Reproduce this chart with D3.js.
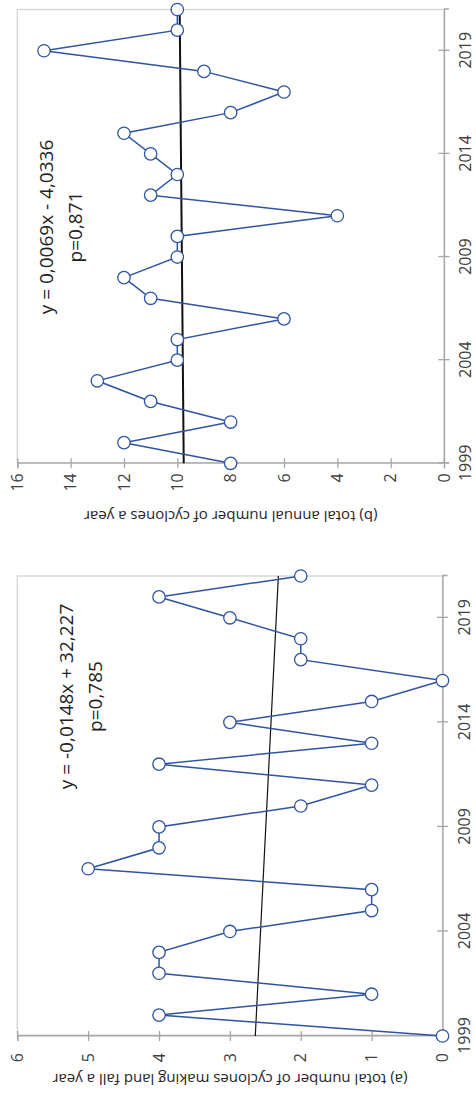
<!DOCTYPE html>
<html>
<head>
<meta charset="utf-8">
<script src="https://cdn.jsdelivr.net/npm/d3@7"></script>
<style>
body { margin: 0; background: #fff; }
text { font-family: "Open Sans", sans-serif; }
</style>
</head>
<body>
<div id="chart"></div>
<script>
// data
const years = [1999, 2000, 2001, 2002, 2003, 2004, 2005, 2006, 2007, 2008, 2009, 2010,
  2011, 2012, 2013, 2014, 2015, 2016, 2017, 2018, 2019, 2020, 2021];
const yearTicks = [1999, 2004, 2009, 2014, 2019];

const landfall = [0, 4, 1, 4, 4, 3, 1, 1, 5, 4, 4, 2, 1, 4, 1, 3, 1, 0, 2, 2, 3, 4, 2];
const totalCyclones = [8, 12, 8, 11, 13, 10, 10, 6, 11, 12, 10, 10, 4, 11, 10, 11, 12, 8, 6, 9, 15, 10, 10];

const trendA = { slope: -0.0148, intercept: 32.227, eq: "y = -0,0148x + 32,227", p: "p=0,785" };
const trendB = { slope: 0.0069, intercept: -4.0336, eq: "y = 0,0069x - 4,0336", p: "p=0,871" };

const valueTicksA = [0, 1, 2, 3, 4, 5, 6];
const valueTicksB = [0, 2, 4, 6, 8, 10, 12, 14, 16];

const titleA = "(a) total number of cyclones making land fall a year";
const titleB = "(b) total annual number of cyclones a year";

// the figure is drawn upright (1095 x 476) and then turned a quarter left
const W = 1095, H = 476;
const blue = "#2f54a2";

const svg = d3.select("#chart").append("svg")
  .attr("width", 476)
  .attr("height", 1095);

const fig = svg.append("g")
  .attr("transform", `translate(0,${W}) rotate(-90)`);

function panel(o) {
  let x = d3.scaleLinear().domain([1999, 2021]).range([o.x0, o.x1]);
  let y = d3.scaleLinear().domain([0, o.vmax]).range([o.y0, o.y1]);

  let g = fig.append("g");

  // light frame
  g.append("rect")
    .attr("x", o.x0).attr("y", o.y1)
    .attr("width", o.x1 - o.x0).attr("height", o.y0 - o.y1)
    .attr("fill", "none").attr("stroke", "#d4d4d4").attr("stroke-width", 1.3);

  let axX = g.append("g")
    .attr("transform", `translate(0,${o.y0})`)
    .call(d3.axisBottom(x).tickValues(yearTicks).tickFormat(d3.format("d")).tickSize(5).tickPadding(11));
  axX.selectAll(".tick line").attr("y1", -5.5).attr("y2", 5.5);

  let axY = g.append("g")
    .attr("transform", `translate(${o.x0},0)`)
    .call(d3.axisLeft(y).tickValues(o.ticks).tickFormat(d3.format("d")).tickSize(5).tickPadding(o.pad));
  axY.selectAll(".tick line").attr("x1", -5).attr("x2", 5);

  g.selectAll(".domain, .tick line").attr("stroke", "#a6a6a6").attr("stroke-width", 1.3);
  g.selectAll(".tick text")
    .attr("fill", "#404040")
    .style("font-size", "16px")
    .style("font-family", "'Open Sans', sans-serif");

  // axis title
  g.append("text")
    .attr("transform", `translate(${o.titleX},${(o.y0 + o.y1) / 2}) rotate(-90)`)
    .attr("text-anchor", "middle")
    .attr("dominant-baseline", "central")
    .attr("fill", "#262626")
    .style("font-size", "15px")
    .text(o.title);

  // trend line
  g.append("line")
    .attr("x1", x(1999)).attr("y1", y(o.trend.slope * 1999 + o.trend.intercept))
    .attr("x2", x(2021)).attr("y2", y(o.trend.slope * 2021 + o.trend.intercept))
    .attr("stroke", "#111").attr("stroke-width", o.trendW);

  // series
  let line = d3.line().x((d, i) => x(years[i])).y(d => y(d));
  g.append("path")
    .datum(o.values)
    .attr("d", line)
    .attr("fill", "none").attr("stroke", blue).attr("stroke-width", 1.5);

  g.selectAll("circle")
    .data(o.values)
    .enter()
    .append("circle")
      .attr("cx", (d, i) => x(years[i]))
      .attr("cy", d => y(d))
      .attr("r", 6.2)
      .attr("fill", "#fff")
      .attr("stroke", blue)
      .attr("stroke-width", 1.3);

  // equation
  let eq = g.append("text")
    .attr("text-anchor", "middle")
    .attr("fill", "#222")
    .style("font-size", "19px");
  eq.append("tspan").attr("x", o.eqX).attr("y", o.eqY).text(o.trend.eq);
  eq.append("tspan").attr("x", o.eqX).attr("y", o.eqY + 28.4).text(o.trend.p);
}

panel({
  values: landfall, vmax: 6, ticks: valueTicksA, trend: trendA, title: titleA,
  x0: 59, x1: 519, y0: 442.5, y1: 17.3, pad: 12,
  titleX: 15, eqX: 398.5, eqY: 73.3, trendW: 1.2
});

panel({
  values: totalCyclones, vmax: 16, ticks: valueTicksB, trend: trendB, title: titleB,
  x0: 631.7, x1: 1085.5, y0: 444, y1: 17.3, pad: 5,
  titleX: 577.7, eqX: 868, eqY: 53.3, trendW: 2
});
</script>
</body>
</html>
